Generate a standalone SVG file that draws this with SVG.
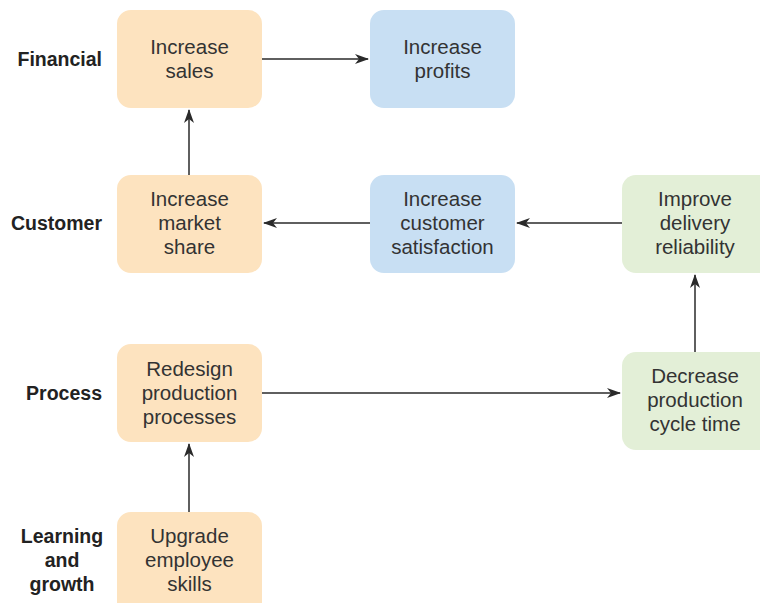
<svg xmlns="http://www.w3.org/2000/svg" width="760" height="603" viewBox="0 0 760 603">
<style>
.o{fill:#fde3bf}.b{fill:#c8dff3}.g{fill:#e3efd7}
.t{font-family:"Liberation Sans",Arial,sans-serif;font-size:20.5px;fill:#333;text-anchor:middle}
.l{font-family:"Liberation Sans",Arial,sans-serif;font-size:19.5px;font-weight:bold;fill:#222;text-anchor:end}
.c{stroke:#2a2a2a;stroke-width:1.5;fill:none;marker-end:url(#ah)}
</style>
<defs>
<marker id="ah" viewBox="0 0 14 10" refX="13" refY="5" markerWidth="14" markerHeight="10" markerUnits="userSpaceOnUse" orient="auto">
<path d="M0,0 L14,5 L0,10 L4,5 Z" fill="#2a2a2a"/>
</marker>
</defs>
<rect width="760" height="603" fill="#fff"/>
<g id="labels">
<text class="l" x="102" y="66">Financial</text>
<text class="l" x="102" y="230">Customer</text>
<text class="l" x="102" y="400">Process</text>
<text class="l" x="62" y="543" style="text-anchor:middle">Learning</text>
<text class="l" x="62" y="567" style="text-anchor:middle">and</text>
<text class="l" x="62" y="591" style="text-anchor:middle">growth</text>
</g>
<g id="connectors">
<line class="c" x1="262" y1="59" x2="368" y2="59"/>
<line class="c" x1="189" y1="175" x2="189" y2="110"/>
<line class="c" x1="370" y1="223" x2="264" y2="223"/>
<line class="c" x1="622" y1="223" x2="517" y2="223"/>
<line class="c" x1="695" y1="352" x2="695" y2="275"/>
<line class="c" x1="262" y1="393" x2="620" y2="393"/>
<line class="c" x1="189" y1="512" x2="189" y2="444"/>
</g>
<g id="increase-sales"><rect class="o" x="117" y="10" width="145" height="98" rx="14"/><text class="t" x="189.5" y="54">Increase</text><text class="t" x="189.5" y="78">sales</text></g>
<g id="increase-profits"><rect class="b" x="370" y="10" width="145" height="98" rx="14"/><text class="t" x="442.5" y="54">Increase</text><text class="t" x="442.5" y="78">profits</text></g>
<g id="increase-market-share"><rect class="o" x="117" y="175" width="145" height="98" rx="14"/><text class="t" x="189.5" y="206">Increase</text><text class="t" x="189.5" y="230">market</text><text class="t" x="189.5" y="254">share</text></g>
<g id="increase-customer-satisfaction"><rect class="b" x="370" y="175" width="145" height="98" rx="14"/><text class="t" x="442.5" y="206">Increase</text><text class="t" x="442.5" y="230">customer</text><text class="t" x="442.5" y="254">satisfaction</text></g>
<g id="improve-delivery-reliability"><rect class="g" x="622" y="175" width="160" height="98" rx="14"/><text class="t" x="695" y="206">Improve</text><text class="t" x="695" y="230">delivery</text><text class="t" x="695" y="254">reliability</text></g>
<g id="redesign-production-processes"><rect class="o" x="117" y="344" width="145" height="98" rx="14"/><text class="t" x="189.5" y="376">Redesign</text><text class="t" x="189.5" y="400">production</text><text class="t" x="189.5" y="424">processes</text></g>
<g id="decrease-production-cycle-time"><rect class="g" x="622" y="352" width="160" height="98" rx="14"/><text class="t" x="695" y="383">Decrease</text><text class="t" x="695" y="407">production</text><text class="t" x="695" y="431">cycle time</text></g>
<g id="upgrade-employee-skills"><rect class="o" x="117" y="512" width="145" height="105" rx="14"/><text class="t" x="189.5" y="543">Upgrade</text><text class="t" x="189.5" y="567">employee</text><text class="t" x="189.5" y="591">skills</text></g>
</svg>
